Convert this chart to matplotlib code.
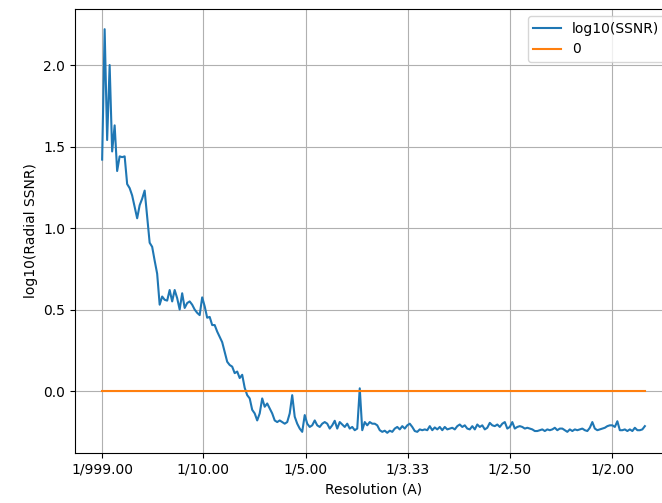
import numpy as np
import matplotlib
matplotlib.use("Agg")
import matplotlib.pyplot as plt

# radial SSNR (log10), low to high frequency
log_ssnr = [
    1.42, 2.22, 1.54, 2.00, 1.47, 1.63, 1.35, 1.44, 1.435, 1.44,
    1.27, 1.245, 1.20, 1.13, 1.06, 1.14, 1.18, 1.23, 1.07, 0.91,
    0.885, 0.80, 0.72, 0.53, 0.58, 0.56, 0.555, 0.62, 0.55, 0.62,
    0.57, 0.50, 0.60, 0.51, 0.54, 0.55, 0.53, 0.50, 0.48, 0.466,
    0.575, 0.52, 0.45, 0.455, 0.405, 0.405, 0.365, 0.333, 0.30, 0.24,
    0.18, 0.16, 0.15, 0.11, 0.12, 0.08, 0.10, 0.02, -0.025, -0.045,
    -0.115, -0.137, -0.18, -0.137, -0.045, -0.096, -0.076, -0.107, -0.137, -0.18,
    -0.19, -0.18, -0.19, -0.20, -0.19, -0.137, -0.025,
    -0.157, -0.20, -0.23, -0.25, -0.147,
    -0.20, -0.22, -0.21, -0.18, -0.21, -0.22, -0.20, -0.19, -0.20, -0.23,
    -0.21, -0.182, -0.23, -0.19, -0.205, -0.22, -0.20, -0.23, -0.22, -0.24,
    -0.23, 0.017,
    -0.24, -0.19, -0.21, -0.19, -0.20, -0.20, -0.21, -0.24, -0.25, -0.243,
    -0.256, -0.243, -0.25, -0.23, -0.22, -0.235, -0.215, -0.23, -0.21, -0.20,
    -0.22, -0.245, -0.25, -0.235, -0.24, -0.235, -0.24, -0.215, -0.24, -0.223,
    -0.235, -0.22, -0.24, -0.22, -0.235, -0.23,
    -0.225, -0.235, -0.215, -0.205, -0.22, -0.21, -0.23, -0.235,
    -0.215, -0.235, -0.205, -0.22, -0.21, -0.235, -0.225, -0.195, -0.21, -0.215,
    -0.205, -0.22, -0.20, -0.19, -0.23, -0.22, -0.19, -0.23, -0.22, -0.215,
    -0.22, -0.23, -0.225, -0.23, -0.235, -0.245, -0.245, -0.24, -0.235, -0.245,
    -0.235, -0.24, -0.235, -0.225, -0.24, -0.23, -0.23, -0.24, -0.25, -0.235,
    -0.245, -0.235, -0.24, -0.235, -0.23, -0.24, -0.245, -0.225, -0.19, -0.23,
    -0.24, -0.235, -0.23, -0.225, -0.215, -0.21, -0.21, -0.22, -0.185, -0.24,
    -0.24, -0.235, -0.245, -0.235, -0.245, -0.225, -0.24, -0.24, -0.235, -0.215,
]

freq_start = 0.001
freq_end = 0.532
tick_freqs = [0.001, 0.1, 0.2, 0.3, 0.4, 0.5]
tick_labels = ["1/999.00", "1/10.00", "1/5.00", "1/3.33", "1/2.50", "1/2.00"]

freq = np.linspace(freq_start, freq_end, len(log_ssnr))

fig = plt.figure(figsize=(6.62, 5.03), dpi=100)
ax = fig.add_axes([0.1133, 0.0994, 0.9018, 0.8827])

ax.plot(freq, log_ssnr, label="log10(SSNR)")
ax.plot(freq, np.zeros(len(freq)), label="0")

ax.set_xticks(tick_freqs)
ax.set_xticklabels(tick_labels)
ax.set_xlabel("Resolution (A)")
ax.set_ylabel("log10(Radial SSNR)")
ax.legend(loc="upper right")
ax.grid(True)

fig.savefig("out.png", dpi=100)
